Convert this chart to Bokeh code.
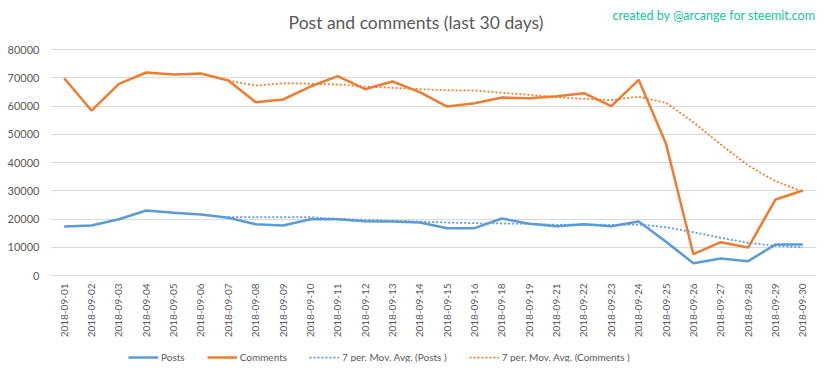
import math
from bokeh.plotting import figure
from bokeh.models import Range1d, FactorRange, Legend, LegendItem, Label
from bokeh.embed import file_html
from bokeh.resources import INLINE

dates = ["2018-09-01", "2018-09-02", "2018-09-03", "2018-09-04", "2018-09-05",
         "2018-09-06", "2018-09-07", "2018-09-08", "2018-09-09", "2018-09-10",
         "2018-09-11", "2018-09-12", "2018-09-13", "2018-09-14", "2018-09-15",
         "2018-09-16", "2018-09-18", "2018-09-19", "2018-09-21", "2018-09-22",
         "2018-09-23", "2018-09-24", "2018-09-25", "2018-09-26", "2018-09-27",
         "2018-09-28", "2018-09-29", "2018-09-30"]

posts = [17350, 17700, 19930, 23000, 22180, 21590, 20420, 18170, 17700, 19930,
         19930, 19220, 19100, 18760, 16750, 16750, 20180, 18290, 17460, 18170,
         17460, 19100, 11920, 4360, 6000, 5070, 10970, 10970]

comments = [69840, 58400, 67850, 71860, 71150, 71500, 69000, 61350, 62300, 66900,
            70550, 65950, 68670, 64900, 59800, 61000, 63000, 62770, 63480, 64540,
            59930, 69270, 46600, 7540, 11800, 9900, 26900, 30090]

ma_dates = dates[6:]
ma_posts = [20640, 20640, 20640, 20640, 20070, 19700, 19350, 19100, 18760, 18520,
            18400, 18290, 17940, 18050, 17940, 18050, 17100, 15330, 13340, 11570,
            10510, 9910]
ma_comments = [69000, 67200, 68070, 67850, 67600, 66900, 66440, 65950, 65600, 65490,
               64700, 63960, 63120, 62540, 62060, 63260, 61130, 54270, 46370, 38940,
               33390, 29720]

y_ticks = [0, 10000, 20000, 30000, 40000, 50000, 60000, 70000, 80000]

title_text = "Post and comments (last 30 days)"
credit_text = "created by @arcange for steemit.com"
legend_labels = ["Posts", "Comments", "7 per. Mov. Avg. (Posts )", "7 per. Mov. Avg. (Comments )"]

FONT = "Lato"
TXT = "#595959"
BLUE = "#5b9bd5"
ORANGE = "#ed7d31"

W, H = 816, 362
LEFT = 50
GRID_TOP_PX = 49      # pixel row of the 80000 gridline
ZERO_PX = 275         # pixel row of the 0 gridline
UNITS_PER_PX = 80000 / (ZERO_PX - GRID_TOP_PX)
Y_END = 80000 + GRID_TOP_PX * UNITS_PER_PX
Y_START = -(H - ZERO_PX) * UNITS_PER_PX
PX_PER_CAT = (W - LEFT) / len(dates)

def ydata(py):
    return (ZERO_PX - py) * UNITS_PER_PX

def xdata(px):
    return (px - LEFT) / PX_PER_CAT

p = figure(width=W, height=H, x_range=FactorRange(*dates), y_range=Range1d(Y_START, Y_END),
           output_backend="svg", toolbar_location=None, title=None,
           min_border_left=LEFT, min_border_right=0, min_border_top=0, min_border_bottom=0)
p.outline_line_color = None
p.background_fill_color = "white"
p.border_fill_color = "white"

p.xaxis.visible = False
p.xgrid.grid_line_color = None
p.ygrid.grid_line_color = "#d9d9d9"
p.ygrid.grid_line_width = 1

p.yaxis.ticker = y_ticks
p.yaxis.axis_line_color = None
p.yaxis.major_tick_line_color = None
p.yaxis.minor_tick_line_color = None
p.yaxis.major_tick_out = 0
p.yaxis.minor_tick_out = 0
p.yaxis.major_label_standoff = 11
p.yaxis.major_label_text_font = FONT
p.yaxis.major_label_text_font_size = "11px"
p.yaxis.major_label_text_color = TXT

# category labels along the bottom, rotated like the reference
p.text(x=dates, y=[0] * len(dates), text=dates, angle=math.pi / 2,
       text_align="right", text_baseline="middle", y_offset=8,
       text_font={"value": FONT}, text_font_size="10px", text_color=TXT)

r_posts = p.line(dates, posts, line_color=BLUE, line_width=2.5)
r_comments = p.line(dates, comments, line_color=ORANGE, line_width=2.5)
r_ma_posts = p.line(ma_dates, ma_posts, line_color=BLUE, line_width=1.75, line_dash="2 2")
r_ma_comments = p.line(ma_dates, ma_comments, line_color=ORANGE, line_width=1.75, line_dash="2 2")

legend = Legend(items=[LegendItem(label=legend_labels[0], renderers=[r_posts]),
                       LegendItem(label=legend_labels[1], renderers=[r_comments]),
                       LegendItem(label=legend_labels[2], renderers=[r_ma_posts]),
                       LegendItem(label=legend_labels[3], renderers=[r_ma_comments])],
                orientation="horizontal", location=(78, -2),
                padding=0, margin=0, spacing=22, glyph_width=30, glyph_height=14,
                label_height=14, label_standoff=3, label_text_font=FONT,
                label_text_font_size="10px", label_text_color=TXT,
                border_line_color=None, background_fill_alpha=0)
p.add_layout(legend)

p.add_layout(Label(x=xdata(415.5), y=ydata(22), text=title_text, text_align="center",
                   text_baseline="middle", text_font=FONT, text_font_size="17.5px", text_color=TXT))
p.add_layout(Label(x=xdata(612), y=ydata(14.5), text=credit_text, text_align="left",
                   text_baseline="middle", text_font=FONT, text_font_size="12.5px", text_color="#20c497"))

open("out.html", "w").write(file_html(p, INLINE))
